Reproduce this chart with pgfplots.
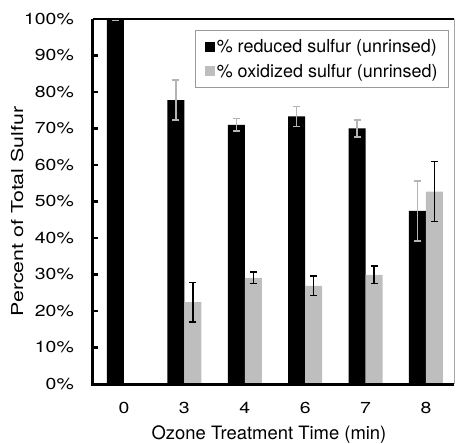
\documentclass[border=0pt]{standalone}
\usepackage{pgfplots}
\pgfplotsset{compat=1.18}
\usepackage{fontspec}
\setmainfont{TeX Gyre Heros}
\newfontfamily\tickfont{TeX Gyre Heros}[FakeStretch=1.22]
\newfontfamily\ylabfont{TeX Gyre Heros}[FakeStretch=1.3]
\definecolor{barg}{HTML}{BEBEBE}
\definecolor{errg}{HTML}{B4B4B4}
\begin{document}
\begin{tikzpicture}
\useasboundingbox (-93bp,-60bp) rectangle (363bp,384bp);
\begin{axis}[
  at={(0,0)}, anchor=south west,
  scale only axis,
  width=361bp, height=365bp,
  ybar, bar width=17bp,
  xmin=-0.513, xmax=5.464,
  ymin=0, ymax=100,
  xtick={0,1,2,3,4,5},
  xticklabels={0,3,4,6,7,8},
  ytick={0,10,...,100},
  yticklabels={0\%,10\%,20\%,30\%,40\%,50\%,60\%,70\%,80\%,90\%,100\%},
  ytick pos=left,
  x tick style={draw=none},
  y tick style={line width=2.5bp, black},
  tick align=inside,
  major tick length=5bp,
  axis line style={draw=none},
  every tick label/.append style={font=\tickfont\fontsize{16}{19}\selectfont, inner sep=0pt},
  yticklabel style={anchor=east, xshift=-19bp},
  xticklabel style={anchor=base, yshift=-29bp},
  ylabel={\ylabfont\fontsize{16.5}{19}\selectfont Percent of Total Sulfur},
  xlabel={\fontsize{18.5}{21}\selectfont Ozone Treatment Time (min)},
  ylabel style={at={(axis description cs:-0.2105,0.4726)}, anchor=center, inner sep=0pt},
  xlabel style={at={(axis description cs:0.4875,-0.1397)}, anchor=center, inner sep=0pt},
  legend style={at={(0.986,0.970)}, anchor=north east, draw=gray!80, line width=0.7bp,
    font=\fontsize{18}{21}\selectfont, row sep=6bp, inner xsep=9bp, inner ysep=7bp,
    nodes={inner sep=2bp}},
  legend image code/.code={\fill[#1] (0bp,-5bp) rectangle (10bp,5bp);},
  legend cell align=left,
  clip=false,
]
\addplot[fill=black, draw=none, bar shift=-8.5bp,
  error bars/.cd, y dir=both, y explicit,
  error bar style={errg, line width=1.5bp}, error mark options={errg, line width=1.5bp, mark size=3.5bp, rotate=90}]
  table[x=x, y=y, y error=e] {
x y e
0 99.8 0.2
1 77.8 5.5
2 71.0 1.7
3 73.3 2.7
4 70.0 2.3
5 47.4 8.2
};
\addlegendentry{\% reduced sulfur (unrinsed)}
\addplot[fill=barg, draw=none, bar shift=8.5bp,
  error bars/.cd, y dir=both, y explicit,
  error bar style={black, line width=1.5bp}, error mark options={black, line width=1.5bp, mark size=3.5bp, rotate=90}]
  table[x=x, y=y, y error=e] {
x y e
1 22.4 5.4
2 29.1 1.6
3 26.9 2.7
4 29.9 2.4
5 52.7 8.2
};
\addlegendentry{\% oxidized sulfur (unrinsed)}
\draw[line width=3bp, black] (rel axis cs:0,1) -- (rel axis cs:0,0) -- (rel axis cs:1,0);
\draw[line width=2bp, black] (rel axis cs:0,1) -- (rel axis cs:1,1);
\draw[line width=0.8bp, gray!70] (rel axis cs:1,1) -- (rel axis cs:1,0);
\end{axis}
\end{tikzpicture}
\end{document}
